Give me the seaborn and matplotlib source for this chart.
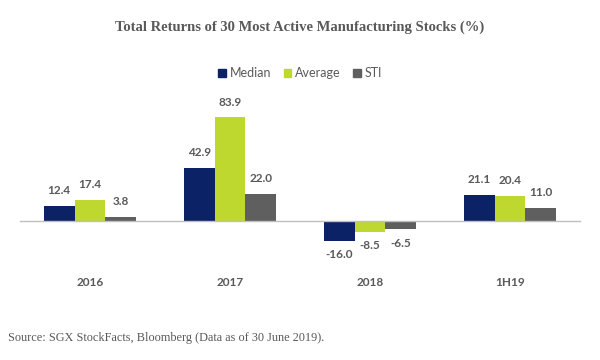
import pandas as pd
import numpy as np
import seaborn as sns
import matplotlib.pyplot as plt
from matplotlib.patches import Rectangle

periods = ['2016', '2017', '2018', '1H19']
series = ['Median', 'Average', 'STI']
median = [12.4, 42.9, -16.0, 21.1]
average = [17.4, 83.9, -8.5, 20.4]
sti = [3.8, 22.0, -6.5, 11.0]

colors = {'Median': '#0c2266', 'Average': '#bed82f', 'STI': '#5f5f5f'}
text_grey = '#595959'

rows = []
for name, vals in zip(series, [median, average, sti]):
    for p, v in zip(periods, vals):
        rows.append({'Period': p, 'Series': name, 'Value': v})
df = pd.DataFrame(rows)

sns.set_style('white')
plt.rcParams['font.family'] = ['Lato', 'DejaVu Sans']

fig = plt.figure(figsize=(6, 3.6), dpi=100)
ax = fig.add_axes([20 / 600, 0.289, 560 / 600, 0.4167])

sns.barplot(data=df, x='Period', y='Value', hue='Series', order=periods,
            hue_order=series, palette=colors, width=0.66, saturation=1,
            edgecolor='none', linewidth=0, ax=ax, legend=False)

ax.set_xlim(-0.5, 3.5)
ax.set_ylim(-28, 93)

# data labels
for cont, name in zip(ax.containers, series):
    for bar in cont:
        v = bar.get_height()
        x = bar.get_x() + bar.get_width() / 2
        if v >= 0:
            ax.annotate(f'{v:.1f}', (x, v), xytext=(0, 7), textcoords='offset points',
                        ha='center', va='bottom', fontsize=8.5, color=text_grey,
                        fontweight='bold')
        else:
            ax.annotate(f'{v:.1f}', (x, v), xytext=(0, -6), textcoords='offset points',
                        ha='center', va='top', fontsize=8.5, color=text_grey,
                        fontweight='bold')

# axis line at zero
for s in ['left', 'right', 'top']:
    ax.spines[s].set_visible(False)
ax.spines['bottom'].set_position(('data', 0))
ax.spines['bottom'].set_color('#bfbfbf')
ax.spines['bottom'].set_linewidth(1)
ax.set_yticks([])
ax.set_xticks(np.arange(-0.5, 4, 1.0))
ax.set_xticklabels([])
ax.tick_params(axis='x', which='major', length=4, color='#bfbfbf', width=1, direction='out')
ax.set_xticks(range(len(periods)), minor=True)
ax.set_xticklabels(periods, minor=True)
ax.tick_params(axis='x', which='minor', length=0, pad=40, labelsize=8.5,
               labelcolor=text_grey)
for t in ax.get_xticklabels(minor=True):
    t.set_fontweight('bold')
ax.set_xlabel('')
ax.set_ylabel('')

# legend
handles = [Rectangle((0, 0), 1, 1, color=colors[s]) for s in series]
fig.legend(handles, series, loc='center', bbox_to_anchor=(0.5, 1 - 73 / 360), ncol=3,
           frameon=False, fontsize=9, handlelength=0.6, handleheight=0.6,
           handletextpad=0.3, columnspacing=1.0, labelcolor=text_grey)

fig.text(0.5, 1 - 27 / 360, 'Total Returns of 30 Most Active Manufacturing Stocks (%)',
         ha='center', va='center', fontsize=10.5, fontweight='bold',
         color=text_grey, family=['Liberation Serif', 'DejaVu Serif'])
fig.text(8 / 600, 1 - 338 / 360, 'Source: SGX StockFacts, Bloomberg (Data as of 30 June 2019).',
         ha='left', va='center', fontsize=8.8, color=text_grey,
         family=['Liberation Serif', 'DejaVu Serif'])

fig.savefig('out.png', dpi=100)
